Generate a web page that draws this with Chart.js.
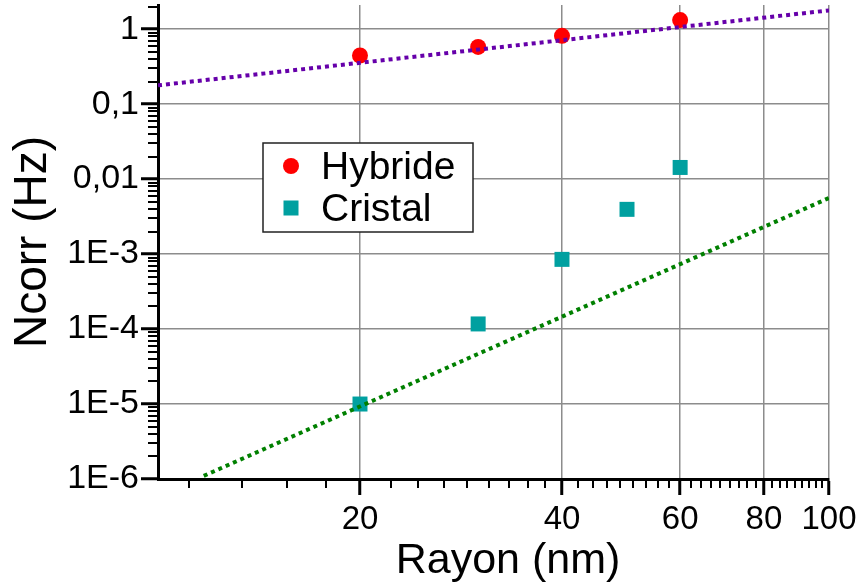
<!DOCTYPE html>
<html>
<head>
<meta charset="utf-8">
<script src="https://cdn.jsdelivr.net/npm/chart.js@4.4.1/dist/chart.umd.min.js"></script>
<style>
  html, body { margin: 0; padding: 0; background: #ffffff; }
  #wrap { width: 864px; height: 583px; position: relative; }
</style>
</head>
<body>
<div id="wrap"><canvas id="c" width="864" height="583"></canvas></div>
<script>
// ---- data ----
const hybrideX = [20, 30, 40, 60];
const hybrideY = [0.445, 0.58, 0.815, 1.32];
const cristalX = [20, 30, 40, 50, 60];
const cristalY = [1.0e-5, 1.17e-4, 8.5e-4, 3.95e-3, 0.0143];
const hybrideFitX = [10, 100];
const hybrideFitY = [0.178, 1.78];
const cristalFitX = [11.7, 100];
const cristalFitY = [1.1e-6, 5.6e-3];

const xMajorTicks = [20, 40, 60, 80, 100];
const xTickLabels = ['20', '40', '60', '80', '100'];
const yMajorTicks = [1e-6, 1e-5, 1e-4, 1e-3, 0.01, 0.1, 1];
const yTickLabels = ['1E-6', '1E-5', '1E-4', '1E-3', '0,01', '0,1', '1'];
const seriesNames = ['Hybride', 'Cristal'];

// minor tick positions (Origin style: 8 minor ticks between majors 20 apart)
const xMinorTicks = [];
for (let k = 5; k <= 45; k++) { if (k % 9 !== 0) xMinorTicks.push(k * 20 / 9); }
const yMinorTicks = [];
for (let e = -6; e <= 0; e++) {
  for (let m = 2; m <= 9; m++) { const v = m * Math.pow(10, e); if (v <= 2.1) yMinorTicks.push(v); }
}

const FONT = "'Liberation Sans', Arial, sans-serif";
const toPts = (xs, ys) => xs.map((x, i) => ({ x: x, y: ys[i] }));

const minorTickPlugin = {
  id: 'minorTicks',
  afterDraw(chart) {
    const ctx = chart.ctx;
    const xs = chart.scales.x, ys = chart.scales.y;
    const area = chart.chartArea;
    ctx.save();
    ctx.strokeStyle = '#000';
    ctx.lineWidth = 2;
    ctx.beginPath();
    xMinorTicks.forEach(v => {
      const px = Math.round(xs.getPixelForValue(v));
      ctx.moveTo(px, area.bottom); ctx.lineTo(px, area.bottom + 9);
    });
    yMinorTicks.forEach(v => {
      const py = Math.round(ys.getPixelForValue(v));
      ctx.moveTo(area.left - 10, py); ctx.lineTo(area.left, py);
    });
    ctx.stroke();

    // legend box
    const bx = 263, by = 143, bw = 210, bh = 89;
    ctx.fillStyle = '#ffffff';
    ctx.fillRect(bx, by, bw, bh);
    ctx.strokeStyle = '#222';
    ctx.lineWidth = 1.5;
    ctx.strokeRect(bx, by, bw, bh);
    ctx.fillStyle = '#ff0000';
    ctx.beginPath(); ctx.arc(291, 166, 8, 0, Math.PI * 2); ctx.fill();
    ctx.fillStyle = '#00a0a0';
    ctx.fillRect(291 - 7.5, 208 - 7.5, 15, 15);
    ctx.fillStyle = '#000';
    ctx.font = '39px ' + FONT;
    ctx.textBaseline = 'alphabetic';
    ctx.textAlign = 'left';
    ctx.fillText(seriesNames[0], 321, 179);
    ctx.fillText(seriesNames[1], 321, 221);

    // x axis title
    ctx.font = '43px ' + FONT;
    ctx.textAlign = 'center';
    ctx.fillText('Rayon (nm)', 508, 573);
    ctx.restore();
  }
};

new Chart(document.getElementById('c'), {
  type: 'scatter',
  data: {
    datasets: [
      { label: seriesNames[0], data: toPts(hybrideX, hybrideY), pointStyle: 'circle', pointRadius: 8,
        backgroundColor: '#ff0000', borderWidth: 0, order: 2, clip: false },
      { label: seriesNames[1], data: toPts(cristalX, cristalY), pointStyle: 'rect', pointRadius: 10.6,
        backgroundColor: '#00a0a0', borderWidth: 0, order: 2, clip: false },
      { label: 'fitH', data: toPts(hybrideFitX, hybrideFitY), showLine: true, pointRadius: 0,
        borderColor: '#6600aa', borderWidth: 4, borderDash: [4, 4], order: 1 },
      { label: 'fitC', data: toPts(cristalFitX, cristalFitY), showLine: true, pointRadius: 0,
        borderColor: '#008000', borderWidth: 4, borderDash: [4, 4], order: 1 }
    ]
  },
  options: {
    responsive: false,
    animation: false,
    layout: { autoPadding: false, padding: { top: 5, right: 35, left: 0, bottom: 0 } },
    plugins: { legend: { display: false }, tooltip: { enabled: false } },
    scales: {
      x: {
        type: 'logarithmic', min: 10, max: 100,
        afterBuildTicks: s => { s.ticks = xMajorTicks.map(v => ({ value: v })); },
        afterFit: s => { s.height = 104; s.paddingLeft = 0; s.paddingRight = 0; },
        ticks: {
          autoSkip: false, maxRotation: 0, padding: 5,
          color: '#000', font: { family: FONT, size: 33 },
          callback: v => { const i = xMajorTicks.indexOf(v); return i >= 0 ? xTickLabels[i] : ''; }
        },
        grid: { color: '#8c8c8c', lineWidth: 1.5, tickLength: 16, tickColor: '#000', tickWidth: 3 },
        border: { color: '#000', width: 3 }
      },
      y: {
        type: 'logarithmic', min: 1e-6, max: 2.1,
        afterBuildTicks: s => { s.ticks = yMajorTicks.map(v => ({ value: v })); },
        afterFit: s => { s.width = 158; s.paddingTop = 0; s.paddingBottom = 0; },
        ticks: {
          autoSkip: false, padding: 2,
          color: '#000', font: { family: FONT, size: 34 },
          callback: v => { const i = yMajorTicks.indexOf(v); return i >= 0 ? yTickLabels[i] : ''; }
        },
        grid: { color: '#8c8c8c', lineWidth: 1.5, tickLength: 17, tickColor: '#000', tickWidth: 3 },
        border: { color: '#000', width: 3 },
        title: { display: true, text: 'Ncorr (Hz)', color: '#000', font: { family: FONT, size: 46 }, padding: { top: 6, bottom: 0 } }
      }
    }
  },
  plugins: [minorTickPlugin]
});
</script>
</body>
</html>
